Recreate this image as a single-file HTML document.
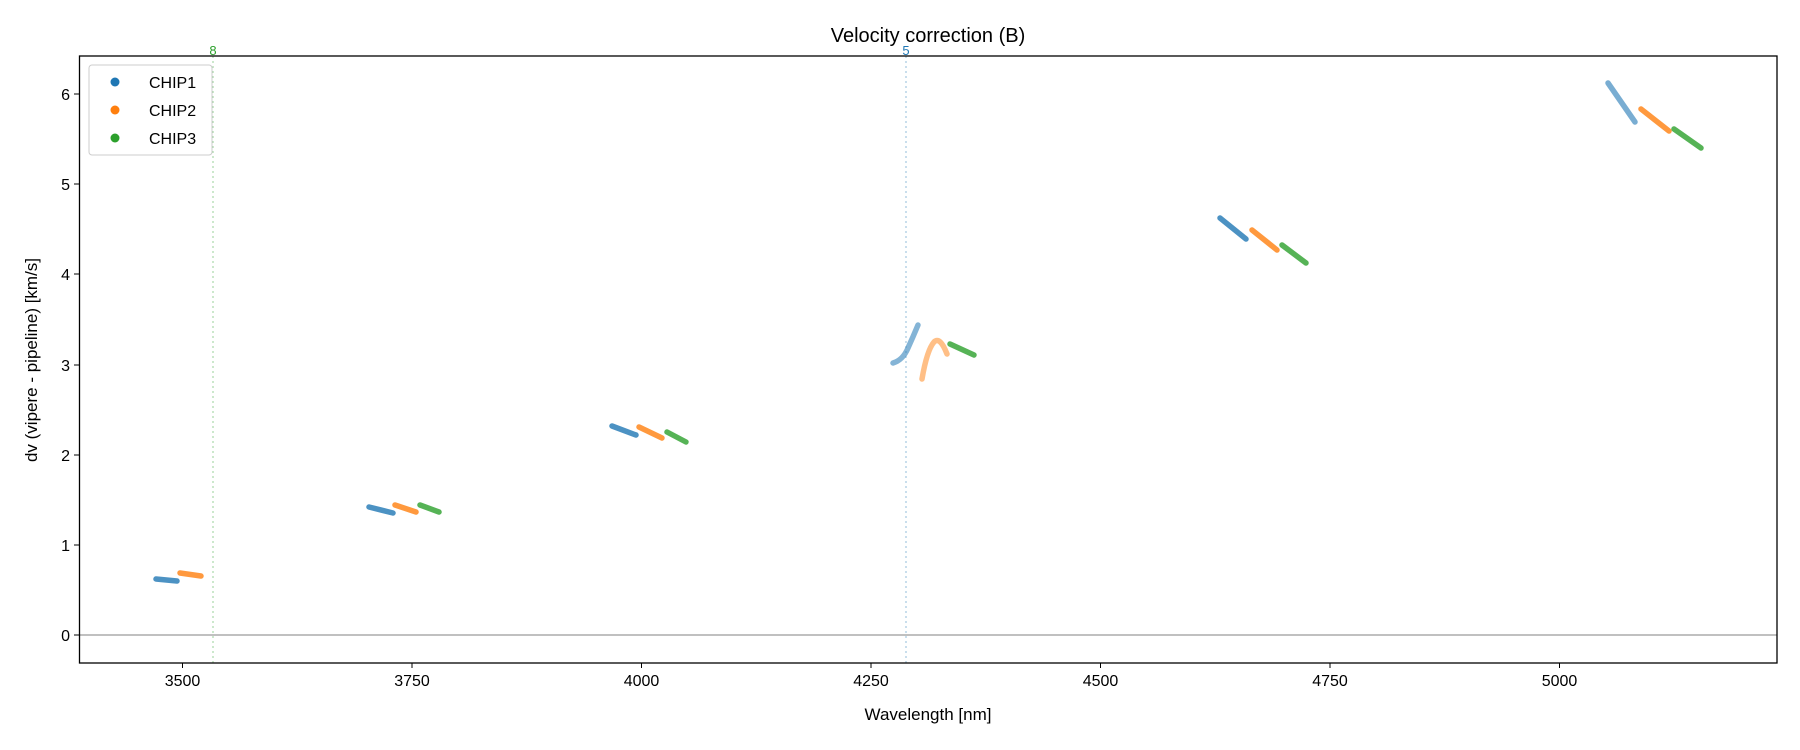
<!DOCTYPE html>
<html><head><meta charset="utf-8"><style>body{margin:0;background:#fff}svg{display:block;font-family:"Liberation Sans","DejaVu Sans",sans-serif}</style></head>
<body>
<svg width="1800" height="750" viewBox="0 0 1800 750">
<rect width="1800" height="750" fill="#fff"/>
<text x="928" y="42" font-size="20" text-anchor="middle">Velocity correction (B)</text>
<!-- zero line -->
<line x1="79" y1="635" x2="1777" y2="635" stroke="#808080" stroke-width="1"/>
<!-- vertical dotted -->
<line x1="213" y1="56" x2="213" y2="663" stroke="#2ca02c" stroke-opacity="0.4" stroke-width="1.2" stroke-dasharray="2,3"/>
<text x="213" y="55" font-size="13" fill="#2ca02c" text-anchor="middle">8</text>
<line x1="906" y1="56" x2="906" y2="663" stroke="#1f77b4" stroke-opacity="0.4" stroke-width="1.2" stroke-dasharray="2,3"/>
<text x="906" y="55" font-size="13" fill="#1f77b4" text-anchor="middle">5</text>
<g fill="none" stroke-width="5.5" stroke-linecap="round" stroke-linejoin="round" stroke-opacity="0.8">
<g stroke="#1f77b4">
<line x1="156" y1="579" x2="177" y2="581"/>
<line x1="369" y1="507" x2="393" y2="513"/>
<line x1="612" y1="426" x2="636" y2="435"/>
<path d="M893,363 Q903,360 908,348 Q913,337 918,325" stroke-opacity="0.55"/>
<line x1="1220" y1="218" x2="1246" y2="239"/>
<line x1="1608" y1="83" x2="1635" y2="122" stroke-opacity="0.6"/>
</g>
<g stroke="#ff7f0e">
<line x1="180" y1="573" x2="201" y2="576"/>
<line x1="395" y1="505" x2="416" y2="512"/>
<line x1="639" y1="427" x2="662" y2="438"/>
<path d="M922,379 Q927,350 934,342 Q940,336 947,354" stroke-opacity="0.5"/>
<line x1="1252" y1="230" x2="1277" y2="250"/>
<line x1="1641" y1="109" x2="1669" y2="131"/>
</g>
<g stroke="#2ca02c">
<line x1="420" y1="505" x2="439" y2="512"/>
<line x1="667" y1="432" x2="686" y2="442"/>
<line x1="950" y1="344" x2="974" y2="355"/>
<line x1="1282" y1="245" x2="1306" y2="263"/>
<line x1="1674" y1="129" x2="1701" y2="148"/>
</g>
</g>
<!-- axes box -->
<rect x="79.5" y="56" width="1697.5" height="607" fill="none" stroke="#000" stroke-width="1.3"/>
<!-- y ticks -->
<g font-size="16" text-anchor="end" stroke="#000">
<line x1="74" y1="635" x2="79" y2="635"/><line x1="74" y1="545" x2="79" y2="545"/>
<line x1="74" y1="455" x2="79" y2="455"/><line x1="74" y1="365" x2="79" y2="365"/>
<line x1="74" y1="274" x2="79" y2="274"/><line x1="74" y1="184" x2="79" y2="184"/>
<line x1="74" y1="94" x2="79" y2="94"/>
</g>
<g font-size="16" text-anchor="end">
<text x="70" y="641">0</text><text x="70" y="551">1</text><text x="70" y="461">2</text>
<text x="70" y="371">3</text><text x="70" y="280">4</text><text x="70" y="190">5</text><text x="70" y="100">6</text>
</g>
<!-- x ticks -->
<g stroke="#000">
<line x1="182.5" y1="663" x2="182.5" y2="668"/><line x1="412" y1="663" x2="412" y2="668"/>
<line x1="641.5" y1="663" x2="641.5" y2="668"/><line x1="871" y1="663" x2="871" y2="668"/>
<line x1="1100.5" y1="663" x2="1100.5" y2="668"/><line x1="1330" y1="663" x2="1330" y2="668"/>
<line x1="1559.5" y1="663" x2="1559.5" y2="668"/>
</g>
<g font-size="16" text-anchor="middle">
<text x="182.5" y="686">3500</text><text x="412" y="686">3750</text><text x="641.5" y="686">4000</text>
<text x="871" y="686">4250</text><text x="1100.5" y="686">4500</text><text x="1330" y="686">4750</text>
<text x="1559.5" y="686">5000</text>
</g>
<text x="928" y="720" font-size="17" text-anchor="middle">Wavelength [nm]</text>
<text transform="translate(37,360) rotate(-90)" font-size="17" text-anchor="middle">dv (vipere - pipeline) [km/s]</text>
<!-- legend -->
<rect x="89" y="65" width="123" height="90" rx="3" fill="#fff" fill-opacity="0.8" stroke="#ccc"/>
<circle cx="115" cy="82" r="4.5" fill="#1f77b4"/><text x="149" y="88" font-size="16">CHIP1</text>
<circle cx="115" cy="110" r="4.5" fill="#ff7f0e"/><text x="149" y="116" font-size="16">CHIP2</text>
<circle cx="115" cy="138" r="4.5" fill="#2ca02c"/><text x="149" y="144" font-size="16">CHIP3</text>
</svg>
</body></html>
